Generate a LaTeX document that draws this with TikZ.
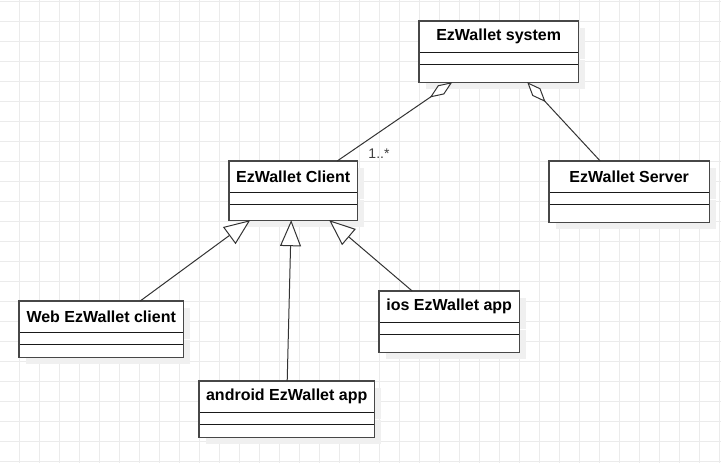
\documentclass[tikz,border=0pt]{standalone}
\usepackage{fontspec}
\setmainfont{Liberation Sans}
\usetikzlibrary{positioning,arrows.meta,shadows}

\tikzset{
    classbox/.style={fill=white, rectangle, inner sep=0pt,
        drop shadow={shadow xshift=7pt, shadow yshift=-7pt, fill=black!6, opacity=1}},
    classhead/.style={classbox, minimum height=31pt, font=\bfseries\fontsize{16}{19}\selectfont},
    classframe/.style={draw=black!72, line width=1.4pt},
    separator/.style={draw=black!90, line width=0.9pt},
    gridline/.style={draw=black!8, line width=0.8pt},
    aggregation/.style={-{Diamond[fill=white, length=27pt, width=11pt]}, draw=black!80, line width=1pt},
    generalization/.style={-{Triangle[fill=white, length=26pt, width=21pt]}, draw=black!80, line width=1pt}
}

\begin{document}
\begin{tikzpicture}[x=1pt, y=-1pt]
        \useasboundingbox (0,0) rectangle (721,463);

        % Griglia
        \fill[white] (0,0) rectangle (721,463);
        \foreach \gx in {-1,19,...,719}
            \draw[gridline] (\gx,0) -- (\gx,463);
        \foreach \gy in {1,21,...,461}
            \draw[gridline] (0,\gy) -- (721,\gy);

        % Classe EzWallet system
        \node[classhead, minimum width=159pt, anchor=north west] at (419, 21) (system) {EzWallet system};
        \node[classbox, minimum width=159pt, minimum height=12pt, below=0pt of system] (system-attr) {};
        \node[classbox, minimum width=159pt, minimum height=17pt, below=0pt of system-attr] (system-ops) {};

        % Classe EzWallet Client
        \node[classhead, minimum width=128pt, anchor=north west] at (229, 161) (client) {EzWallet Client};
        \node[classbox, minimum width=128pt, minimum height=12pt, below=0pt of client] (client-attr) {};
        \node[classbox, minimum width=128pt, minimum height=15pt, below=0pt of client-attr] (client-ops) {};

        % Classe EzWallet Server
        \node[classhead, minimum width=160pt, anchor=north west] at (549, 161) (server) {EzWallet Server};
        \node[classbox, minimum width=160pt, minimum height=12pt, below=0pt of server] (server-attr) {};
        \node[classbox, minimum width=160pt, minimum height=17pt, below=0pt of server-attr] (server-ops) {};

        % Classe Web EzWallet client
        \node[classhead, minimum width=164pt, anchor=north west] at (19, 301) (webclient) {Web EzWallet client};
        \node[classbox, minimum width=164pt, minimum height=12pt, below=0pt of webclient] (webclient-attr) {};
        \node[classbox, minimum width=164pt, minimum height=12pt, below=0pt of webclient-attr] (webclient-ops) {};

        % Classe ios EzWallet app
        \node[classhead, minimum width=140pt, anchor=north west] at (379, 291) (iosapp) {ios EzWallet app};
        \node[classbox, minimum width=140pt, minimum height=12pt, below=0pt of iosapp] (iosapp-attr) {};
        \node[classbox, minimum width=140pt, minimum height=17pt, below=0pt of iosapp-attr] (iosapp-ops) {};

        % Classe android EzWallet app
        \node[classhead, minimum width=175pt, anchor=north west] at (199, 381) (androidapp) {android EzWallet app};
        \node[classbox, minimum width=175pt, minimum height=12pt, below=0pt of androidapp] (androidapp-attr) {};
        \node[classbox, minimum width=175pt, minimum height=12pt, below=0pt of androidapp-attr] (androidapp-ops) {};

        % Bordi e separatori delle classi
        \foreach \c in {system, client, server, webclient, iosapp, androidapp} {
            \draw[separator] (\c-attr.north west) -- (\c-attr.north east);
            \draw[separator] (\c-ops.north west) -- (\c-ops.north east);
            \draw[classframe] (\c.north west) rectangle (\c-ops.south east);
        }

        % Aggregazioni
        \draw[aggregation] ([xshift=44pt]client.north) -- ([xshift=-46.5pt]system-ops.south);
        \draw[aggregation] ([xshift=-29pt]server.north) -- ([xshift=28.5pt]system-ops.south);
        \node[font=\fontsize{14}{16}\selectfont, text=black!75] at (379, 154) (mult) {1..*};

        % Generalizzazioni
        \draw[generalization] ([xshift=39pt]webclient.north) -- ([xshift=-43pt]client-ops.south);
        \draw[generalization] ([xshift=0.5pt]androidapp.north) -- ([xshift=-2pt]client-ops.south);
        \draw[generalization] ([xshift=-37pt]iosapp.north) -- ([xshift=36pt]client-ops.south);
    \end{tikzpicture}
\end{document}
